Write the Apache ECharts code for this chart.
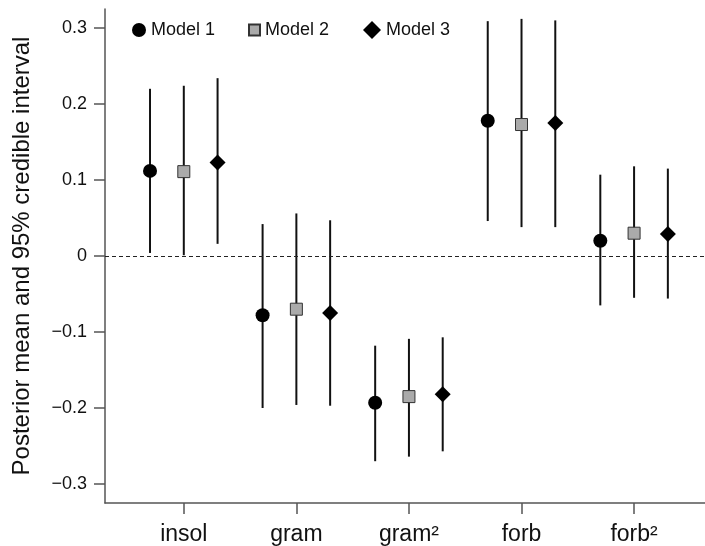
<!DOCTYPE html>
<html>
<head>
<meta charset="utf-8">
<script src="https://cdn.jsdelivr.net/npm/echarts@6/dist/echarts.min.js"></script>
<style>
  html, body { margin: 0; padding: 0; background: #fff; }
  #chart { width: 705px; height: 546px; }
</style>
</head>
<body>
<div id="chart"></div>
<script>
// predictors on the x axis
const categories = ['insol', 'gram', 'gram²', 'forb', 'forb²']
const yTicks = [-0.3, -0.2, -0.1, 0, 0.1, 0.2, 0.3]

// posterior means and 95% credible interval bounds
const model1Mean = [0.112, -0.078, -0.193, 0.178, 0.020]
const model1Lower = [0.004, -0.200, -0.270, 0.046, -0.065]
const model1Upper = [0.220, 0.042, -0.118, 0.309, 0.107]

const model2Mean = [0.111, -0.070, -0.185, 0.173, 0.030]
const model2Lower = [0.001, -0.196, -0.264, 0.038, -0.055]
const model2Upper = [0.224, 0.056, -0.109, 0.312, 0.118]

const model3Mean = [0.123, -0.075, -0.182, 0.175, 0.029]
const model3Lower = [0.016, -0.197, -0.257, 0.038, -0.056]
const model3Upper = [0.234, 0.047, -0.107, 0.310, 0.115]

const DODGE = 0.3 // horizontal offset between models within a group
const FONT = 'Liberation Sans, Arial, Helvetica, sans-serif'

const chart = echarts.init(document.getElementById('chart'))

function intervalSeries(lower, upper, offset) {
  return {
    type: 'custom',
    silent: true,
    z: 1,
    renderItem(params, api) {
      const top = api.coord([api.value(0), api.value(2)])
      const bottom = api.coord([api.value(0), api.value(1)])
      return {
        type: 'line',
        shape: { x1: top[0], y1: top[1], x2: bottom[0], y2: bottom[1] },
        style: { stroke: '#111', lineWidth: 2 }
      }
    },
    data: categories.map((c, i) => [i + 1 + offset, lower[i], upper[i]])
  }
}

function meanSeries(name, mean, offset, symbol, size, itemStyle) {
  return {
    name: name,
    type: 'scatter',
    z: 3,
    symbol: symbol,
    symbolSize: size,
    itemStyle: itemStyle,
    data: categories.map((c, i) => [i + 1 + offset, mean[i]])
  }
}

// one legend per model so each icon keeps its own size
function legendItem(name, left, size) {
  return {
    data: [name],
    left: left,
    top: 21,
    padding: 0,
    itemWidth: size,
    itemHeight: size,
    textStyle: { fontSize: 18, color: '#111', fontFamily: FONT }
  }
}

const ticks = categories.map((c, i) => i + 1)

chart.setOption({
  animation: false,
  textStyle: { fontFamily: FONT },
  grid: { left: 105, right: 0, top: 9, bottom: 41 },
  legend: [
    legendItem('Model 1', 132, 14),
    legendItem('Model 2', 248, 11),
    legendItem('Model 3', 363, 18)
  ],
  xAxis: {
    type: 'value',
    min: 0.3,
    max: 5.63,
    splitLine: { show: false },
    axisLine: { onZero: false, lineStyle: { color: '#555', width: 1.5 } },
    axisTick: { customValues: ticks, length: 11, lineStyle: { color: '#555', width: 1.5 } },
    axisLabel: {
      customValues: ticks,
      margin: 20,
      fontSize: 23,
      color: '#111',
      fontFamily: FONT,
      formatter: v => categories[Math.round(v) - 1]
    }
  },
  yAxis: {
    type: 'value',
    min: -0.325,
    max: 0.325,
    name: 'Posterior mean and 95% credible interval',
    nameLocation: 'middle',
    nameGap: 71,
    nameTextStyle: { fontSize: 24, color: '#111', fontFamily: FONT },
    splitLine: { show: false },
    axisLine: { show: true, onZero: false, lineStyle: { color: '#555', width: 1.5 } },
    axisTick: { customValues: yTicks, length: 11, lineStyle: { color: '#555', width: 1.5 } },
    axisLabel: {
      customValues: yTicks,
      margin: 18,
      fontSize: 18,
      color: '#111',
      fontFamily: FONT,
      formatter: v => v === 0 ? '0' : (v < 0 ? '\u2212' : '') + Math.abs(v).toFixed(1)
    }
  },
  series: [
    Object.assign(intervalSeries(model1Lower, model1Upper, -DODGE), {
      markLine: {
        silent: true,
        symbol: 'none',
        label: { show: false },
        lineStyle: { color: '#222', type: [4, 3], width: 1 },
        data: [{ yAxis: 0 }]
      }
    }),
    intervalSeries(model2Lower, model2Upper, 0),
    intervalSeries(model3Lower, model3Upper, DODGE),
    meanSeries('Model 1', model1Mean, -DODGE, 'circle', 14, { color: '#000', opacity: 1 }),
    meanSeries('Model 2', model2Mean, 0, 'rect', 12, { color: '#aaa', borderColor: '#333', borderWidth: 1, opacity: 1 }),
    meanSeries('Model 3', model3Mean, DODGE, 'diamond', 16, { color: '#000', opacity: 1 })
  ]
})
</script>
</body>
</html>
